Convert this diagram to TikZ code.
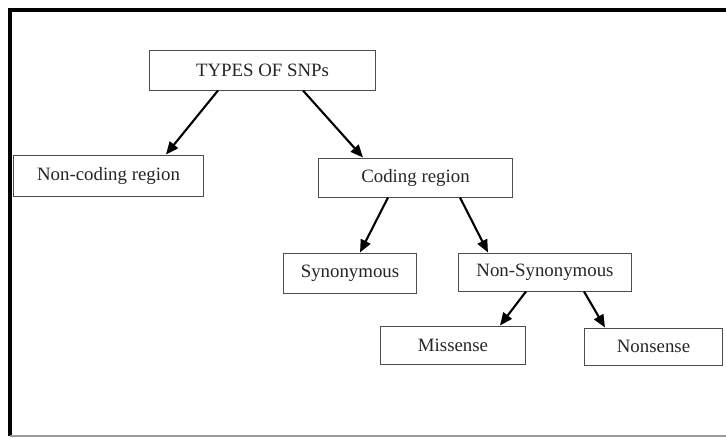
\documentclass[tikz,border=0pt]{standalone}
\usepackage{fontspec}
\setmainfont{Liberation Serif}
\usetikzlibrary{arrows.meta}

\tikzset{
    snpbox/.style={draw=black!70, line width=0.7pt, fill=white, inner sep=0pt,
        font=\fontsize{13.4}{15}\selectfont, text=black!85},
    arr/.style={-{Triangle[length=9pt, width=7.5pt]}, line width=1.5pt}
}

\begin{document}
\begin{tikzpicture}[x=0.025cm, y=-0.025cm]
        \useasboundingbox (0,0) rectangle (726,437);

        % Frame round the chart
        \draw[line width=2.4pt] (10,436) -- (10,10) -- (726,10);
        \draw[black!40, line width=0.8pt] (10,436) -- (726,436);

        % Boxes
        \node[snpbox, minimum width=5.625cm, minimum height=1cm] (types) at (262.5,70) {TYPES OF SNPs};
        \node[snpbox, minimum width=4.725cm, minimum height=1.025cm] (noncoding) at (108.5,175.5) {Non-coding region};
        \node[snpbox, minimum width=4.825cm, minimum height=0.975cm] (coding) at (415.5,177.5) {Coding region};
        \node[snpbox, minimum width=3.3cm, minimum height=1cm] (syn) at (350,273) {Synonymous};
        \node[snpbox, minimum width=4.3cm, minimum height=0.95cm] (nonsyn) at (545,272) {Non-Synonymous};
        \node[snpbox, minimum width=3.6cm, minimum height=0.95cm] (missense) at (453,345) {Missense};
        \node[snpbox, minimum width=3.45cm, minimum height=0.925cm] (nonsense) at (653.5,346.5) {Nonsense};

        % Arrows between the levels
        \draw[arr] (types.south -| 218,0) -- (noncoding.north -| 166,0);
        \draw[arr] (types.south -| 303,0) -- (coding.north -| 363,0);
        \draw[arr] (coding.south -| 388,0) -- (syn.north -| 360,0);
        \draw[arr] (coding.south -| 460,0) -- (nonsyn.north -| 488,0);
        \draw[arr] (nonsyn.south -| 526,0) -- (missense.north -| 500,0);
        \draw[arr] (nonsyn.south -| 584,0) -- (nonsense.north -| 605,0);
    \end{tikzpicture}
\end{document}
